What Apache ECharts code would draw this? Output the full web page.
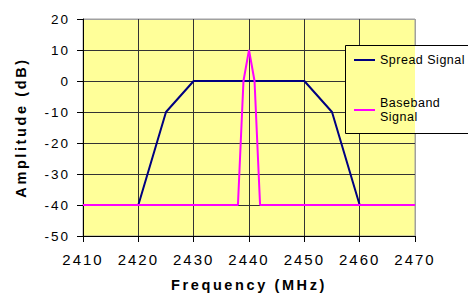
<!DOCTYPE html>
<html>
<head>
    <meta charset="utf-8">
    <title>Spread vs Baseband</title>
    <script src="https://cdn.jsdelivr.net/npm/echarts@6/dist/echarts.min.js"></script>
    <style>
        html, body { margin: 0; padding: 0; background: #fff; }
        #chart { width: 468px; height: 295px; }
        /* the original's text is drawn wide, spread the letters a little */
        #chart text { letter-spacing: 2px; }
        #chart text[style*="bold"] { letter-spacing: 2.6px; }
        #chart text[style*="12.5px"] { letter-spacing: 0.5px; }
    </style>
</head>
<body>
    <div id="chart"></div>
    <script>
        // values
        var spreadFreq = [2420, 2425, 2430, 2450, 2455, 2460];
        var spreadAmp = [-40, -10, 0, 0, -10, -40];
        var baseFreq = [2410, 2438, 2439, 2440, 2441, 2442, 2470];
        var baseAmp = [-40, -40, 0, 10, 0, -40, -40];
        var xTicks = [2410, 2420, 2430, 2440, 2450, 2460, 2470];
        var yTicks = [-50, -40, -30, -20, -10, 0, 10, 20];

        function pairs(xs, ys) {
            return xs.map(function (x, i) { return [x, ys[i]]; });
        }

        // the last grid line (top / right) is grey like the plot border
        var yLineColors = yTicks.map(function (v, i) { return i === yTicks.length - 1 ? '#a0a0a0' : '#333'; });
        var xLineColors = xTicks.map(function (v, i) { return i === xTicks.length - 1 ? '#a0a0a0' : '#333'; });

        var myChart = echarts.init(document.getElementById('chart'), null, { renderer: 'svg' });
        var font = 'Arial, "Liberation Sans", sans-serif';
        var legendText = { fontFamily: font, fontSize: 12.5, color: '#000', lineHeight: 14 };

        var option = {
            animation: false,
            grid: {
                left: 83, top: 19, right: 53, bottom: 59,
                outerBoundsMode: 'none',
                show: true,
                backgroundColor: '#FFFF99',
                borderColor: '#a0a0a0',
                borderWidth: 1
            },
            xAxis: {
                type: 'value',
                min: xTicks[0], max: xTicks[xTicks.length - 1], interval: 10,
                name: 'Frequency (MHz)',
                nameLocation: 'middle',
                nameGap: 41,
                nameTextStyle: { fontFamily: font, fontWeight: 'bold', fontSize: 14.5, color: '#000' },
                axisLine: { show: true, onZero: false, lineStyle: { color: '#000', width: 1 } },
                axisTick: { show: true, inside: false, length: 6, lineStyle: { color: '#000' } },
                axisLabel: {
                    margin: 16, fontFamily: font, fontSize: 15, color: '#000',
                    formatter: function (v) { return String(v); }
                },
                splitLine: { show: true, lineStyle: { color: xLineColors, width: 1 } }
            },
            yAxis: {
                type: 'value',
                min: yTicks[0], max: yTicks[yTicks.length - 1], interval: 10,
                name: 'Amplitude (dB)',
                nameLocation: 'middle',
                nameGap: 55,
                nameTextStyle: { fontFamily: font, fontWeight: 'bold', fontSize: 14.5, color: '#000' },
                axisLine: { show: true, onZero: false, lineStyle: { color: '#000', width: 1 } },
                axisTick: { show: true, inside: false, length: 6, lineStyle: { color: '#000' } },
                axisLabel: { margin: 13, fontFamily: font, fontSize: 13.5, color: '#000' },
                splitLine: { show: true, lineStyle: { color: yLineColors, width: 1 } }
            },
            graphic: [{
                type: 'rect',
                z: 3,
                shape: { x: 345.5, y: 45.5, width: 140, height: 88 },
                style: {
                    fill: new echarts.graphic.LinearGradient(0, 0, 1, 0, [
                        { offset: 0, color: '#FFFF99' },
                        { offset: 0.5, color: '#FFFF99' },
                        { offset: 0.5, color: '#ffffff' },
                        { offset: 1, color: '#ffffff' }
                    ]),
                    stroke: '#000',
                    lineWidth: 1
                }
            }],
            legend: [{
                orient: 'vertical',
                left: 349,
                top: 48,
                z: 5,
                icon: 'rect',
                itemWidth: 21,
                itemHeight: 2,
                textStyle: legendText,
                data: ['Spread Signal']
            }, {
                orient: 'vertical',
                left: 349,
                top: 84,
                z: 5,
                icon: 'rect',
                itemWidth: 21,
                itemHeight: 2,
                textStyle: Object.assign({}, legendText, { padding: [14, 0, 0, 0] }),
                formatter: function (name) { return 'Baseband\nSignal'; },
                data: ['Baseband Signal']
            }],
            series: [{
                name: 'Spread Signal',
                type: 'line',
                data: pairs(spreadFreq, spreadAmp),
                symbol: 'none',
                color: '#000080',
                lineStyle: { color: '#000080', width: 2 },
                z: 2
            }, {
                name: 'Baseband Signal',
                type: 'line',
                data: pairs(baseFreq, baseAmp),
                symbol: 'none',
                color: '#FF00FF',
                lineStyle: { color: '#FF00FF', width: 2 },
                z: 2
            }]
        };
        myChart.setOption(option);
    </script>
</body>
</html>
